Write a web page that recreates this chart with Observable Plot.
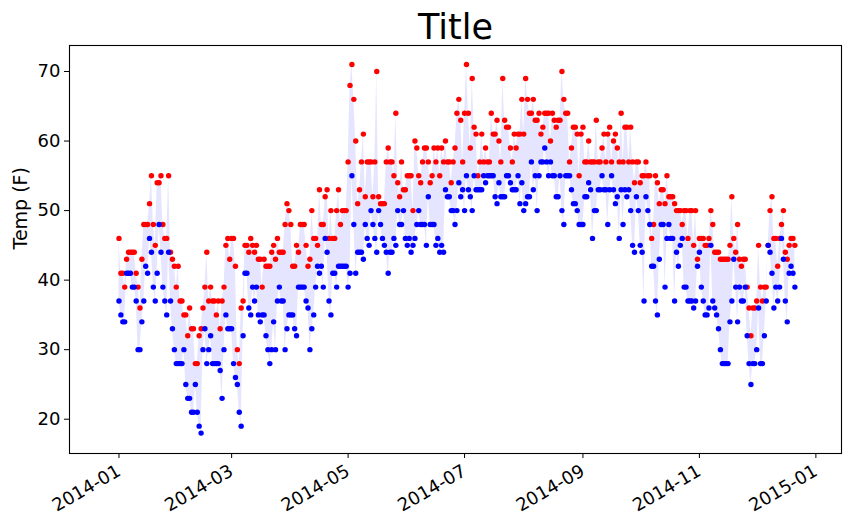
<!DOCTYPE html>
<html><head><meta charset="utf-8">
<script src="https://cdn.jsdelivr.net/npm/d3@7"></script>
<script src="https://cdn.jsdelivr.net/npm/@observablehq/plot@0.6"></script>
<style>body{margin:0;background:#fff} svg{display:block}</style>
</head><body><div id="chart"></div>
<script>
const startDay = "2014-01-01";
const highs = [
46,41,41,39,43,44,44,44,44,41,39,36,43,48,48,48,51,55,48,45,54,54,55,48,46,46,55,44,43,42,39,42,37,37,
35,35,32,36,33,33,28,28,32,33,36,39,44,37,39,37,37,35,37,33,37,39,45,46,43,46,46,42,30,28,36,37,45,
45,44,46,45,44,45,43,43,39,43,42,42,42,44,45,43,46,44,44,44,48,51,50,48,42,42,45,44,48,48,48,45,42,43,50,46,
46,45,53,48,48,52,53,46,50,46,46,50,53,48,50,50,50,57,68,71,66,60,51,53,57,61,52,57,57,57,52,57,70,
52,51,51,51,57,59,57,57,55,64,54,52,57,53,53,55,55,55,50,60,59,55,54,57,59,59,57,54,55,59,57,59,55,
59,57,60,57,57,54,57,59,64,66,63,57,64,71,64,59,69,62,61,55,57,61,57,59,57,57,64,61,61,63,60,57,69,63,62,
62,59,57,61,59,61,61,66,61,69,66,64,64,66,63,63,64,61,62,64,64,64,60,64,63,62,63,63,70,66,64,64,57,59,62,
62,61,55,61,62,57,57,60,57,57,57,63,57,57,59,61,57,61,62,57,60,61,59,57,64,57,62,62,57,62,57,54,
57,57,54,55,55,57,55,55,46,48,55,54,51,53,53,51,55,52,52,52,51,50,50,50,48,50,50,46,50,50,45,50,43,46,46,
46,45,45,46,50,48,44,44,44,43,43,43,43,43,45,52,46,44,48,43,42,43,43,39,36,32,36,36,37,45,39,37,39,39,45,50,52,46,46,42,46,48,50,44,43,45,46,46,45
];
const lows = [
37,35,34,34,41,41,41,39,39,37,30,30,34,37,42,41,46,44,39,37,41,48,44,39,37,35,44,37,33,30,28,28,28,28,
30,25,23,23,21,21,25,21,19,18,30,33,28,30,32,28,28,28,28,27,23,30,35,33,33,33,28,26,25,21,19,32,41,
41,36,35,39,37,39,35,34,35,35,32,30,28,30,34,30,37,39,37,37,30,33,35,35,35,33,32,39,39,39,39,37,36,30,33,35,
39,42,41,42,39,46,44,37,35,41,41,39,42,42,42,42,42,39,41,55,48,41,44,44,44,43,48,46,45,50,48,46,44,
50,48,46,45,44,41,44,44,46,45,50,48,48,50,46,45,46,44,45,46,48,50,48,48,48,45,52,48,48,48,45,46,44,
45,44,53,52,52,50,50,48,50,54,52,53,50,55,53,52,50,55,53,53,53,53,55,54,55,55,55,55,52,51,54,52,52,52,55,
55,54,53,53,53,55,51,54,50,51,52,52,57,53,55,50,55,57,57,59,57,55,57,55,55,52,52,55,50,48,55,55,55,53,51,
51,50,48,48,48,52,52,54,53,46,50,50,53,53,55,53,53,48,53,55,53,51,52,46,53,48,53,52,53,50,45,44,
52,50,45,44,37,52,50,48,42,42,37,35,43,48,48,39,46,48,46,46,37,44,42,45,46,39,39,37,37,37,36,37,42,44,39,
37,35,35,36,45,37,36,35,33,30,28,28,28,28,34,37,43,39,34,39,37,37,39,32,28,25,28,28,30,36,28,28,32,37,45,44,41,36,39,37,39,46,43,37,34,41,42,41,39
];
const xTickLabels = ["2014-01","2014-03","2014-05","2014-07","2014-09","2014-11","2015-01"];
const yTicks = [20,30,40,50,60,70];
const titleText = "Title";
const yLabel = "Temp (F)";

const start = new Date(startDay);
const data = highs.map((h, i) => ({date: d3.utcDay.offset(start, i), high: h, low: lows[i]}));
const xTicks = xTickLabels.map(s => new Date(s + "-01"));

const chart = Plot.plot({
  width: 857, height: 530,
  marginLeft: 69, marginRight: 16, marginTop: 45, marginBottom: 77,
  style: {fontFamily: "DejaVu Sans", fontSize: "18px", color: "black", background: "white", overflow: "visible"},
  x: {type: "utc", domain: [new Date("2013-12-06T02:00Z"), new Date("2015-01-14T10:00Z")]},
  y: {domain: [15.07, 73.74]},
  marks: [
    Plot.areaY(data, {x: "date", y1: "low", y2: "high", fill: "blue", fillOpacity: 0.1, curve: "linear"}),
    Plot.dot(data, {x: "date", y: "high", r: 2.7, fill: "red"}),
    Plot.dot(data, {x: "date", y: "low", r: 2.7, fill: "blue"}),
    Plot.axisX({ticks: xTicks, tickFormat: d3.utcFormat("%Y-%m"), tickRotate: -30, tickSize: 5, tickPadding: 11, label: null, fontSize: 18}),
    Plot.axisY({ticks: yTicks, tickSize: 5, tickPadding: 4, label: null, fontSize: 18}),
    Plot.frame({stroke: "black", strokeWidth: 1.1}),
    Plot.text([titleText], {frameAnchor: "top", dy: -31, fontSize: 35}),
    Plot.text([yLabel], {frameAnchor: "left", dx: -49, rotate: -90, fontSize: 19})
  ]
});
document.getElementById("chart").appendChild(chart);
</script>
</body></html>
